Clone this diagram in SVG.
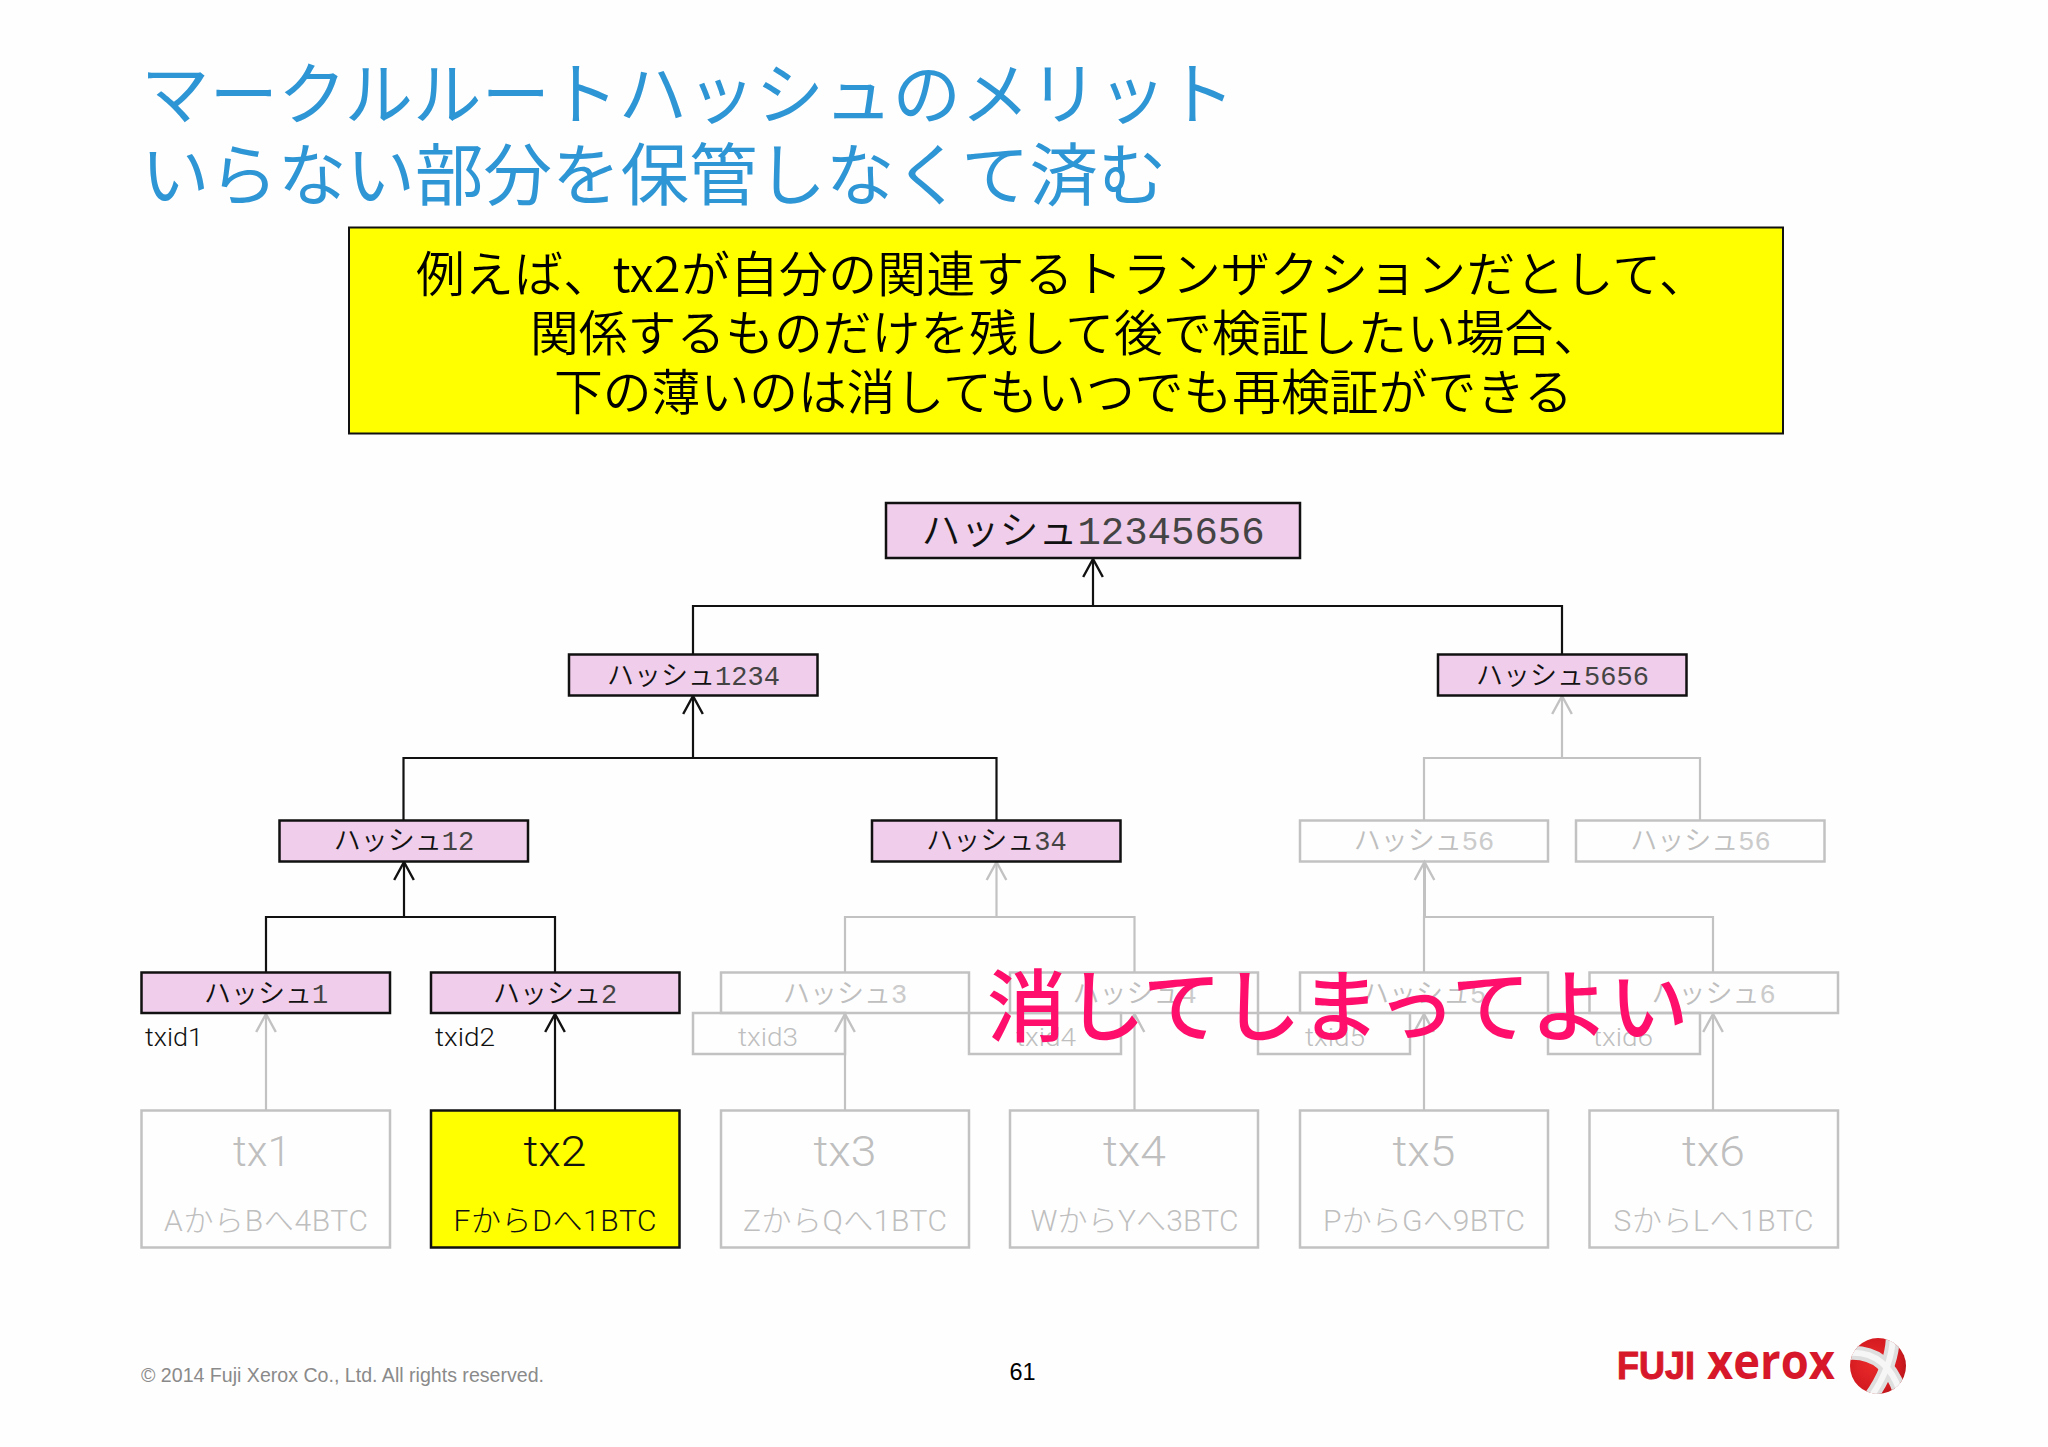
<svg xmlns="http://www.w3.org/2000/svg" width="2048" height="1447" viewBox="0 0 2048 1447">
<style>
.jp{font-family:"Noto Sans CJK JP","Liberation Sans",sans-serif}
.title{font-size:68.500px;font-weight:400;fill:#2e96d5}
.note{font-size:48.800px;font-weight:350;fill:#000}
.box{stroke-width:2.5px}
.on{fill:#f0cdea;stroke:#111}
.off{fill:none;stroke:#c2c2c2}
.h{text-anchor:middle;font-weight:350;font-size:27px}
.h tspan{font-family:"Liberation Mono",monospace}
.k tspan{fill:#444}
.g tspan{fill:#cbcbcb}
.root{font-size:39px}
.k{fill:#111}
.g{fill:#bfbfbf}
.lat{font-family:Roboto,"Liberation Sans","Noto Sans CJK JP",sans-serif;font-weight:300}
.tx{font-size:42px;text-anchor:middle}
.sub{font-size:30px;text-anchor:middle}
.txid{font-size:26.500px;font-family:Roboto,"Liberation Sans",sans-serif;font-weight:300}
.c{fill:none;stroke-width:2.2px}
.cb{stroke:#111}
.cg{stroke:#c2c2c2}
</style>
<defs>
<marker id="ab" markerUnits="userSpaceOnUse" markerWidth="24" markerHeight="24" refX="18" refY="11" orient="auto" viewBox="0 0 22 22"><path d="M1.500 2L18 11L1.500 20" fill="none" stroke="#111" stroke-width="2.2"/></marker>
<marker id="ag" markerUnits="userSpaceOnUse" markerWidth="24" markerHeight="24" refX="18" refY="11" orient="auto" viewBox="0 0 22 22"><path d="M1.500 2L18 11L1.500 20" fill="none" stroke="#c2c2c2" stroke-width="2.2"/></marker>
<radialGradient id="red" cx="40%" cy="45%" r="70%"><stop offset="0" stop-color="#ea2a2a"/><stop offset="0.7" stop-color="#d31a20"/><stop offset="1" stop-color="#a81418"/></radialGradient>
<clipPath id="ball"><circle cx="1878" cy="1366" r="28"/></clipPath>
</defs>
<rect width="2048" height="1447" fill="#fefefe"/>

<g id="title" class="jp title">
<text x="141" y="119">マークルルートハッシュのメリット</text>
<text x="141" y="200">いらない部分を保管しなくて済む</text>
</g>

<g id="note">
<rect x="349" y="227.500" width="1434" height="206" fill="#ffff00" stroke="#111" stroke-width="2"/>
<g class="jp note">
<text x="416" y="292" letter-spacing="0.300">例えば、tx2が自分の関連するトランザクションだとして、</text>
<text x="530" y="351">関係するものだけを残して後で検証したい場合、</text>
<text x="554" y="410">下の薄いのは消してもいつでも再検証ができる</text>
</g>
</g>

<g id="connectors" class="c">
<path class="cb" d="M693 654V606H1562V654"/>
<path class="cb" d="M1093 606V559" marker-end="url(#ab)"/>
<path class="cb" d="M403.500 820V758H996.500V820"/>
<path class="cb" d="M693 758V696" marker-end="url(#ab)"/>
<path class="cg" d="M1424 820V758H1700V820"/>
<path class="cg" d="M1562 758V696" marker-end="url(#ag)"/>
<path class="cb" d="M266 972V917H555V972"/>
<path class="cb" d="M404 917V862" marker-end="url(#ab)"/>
<path class="cg" d="M845 972V917H1134.500V972"/>
<path class="cg" d="M996.500 917V862" marker-end="url(#ag)"/>
<path class="cg" d="M1424 972V917H1713V972"/>
<path class="cg" d="M1424.500 917V862" style="stroke-width:3" marker-end="url(#ag)"/>
<path class="cg" d="M266 1110V1014" marker-end="url(#ag)"/>
<path class="cb" d="M555 1110V1014" marker-end="url(#ab)"/>
<path class="cg" d="M845 1110V1014" marker-end="url(#ag)"/>
<path class="cg" d="M1134.500 1110V1014" marker-end="url(#ag)"/>
<path class="cg" d="M1424 1110V1014" marker-end="url(#ag)"/>
<path class="cg" d="M1713 1110V1014" marker-end="url(#ag)"/>
</g>

<g id="hash12345656"><rect class="box on" x="886" y="503" width="414" height="55"/><text class="jp h root k" x="1093" y="544">ハッシュ<tspan>12345656</tspan></text></g>
<g id="hash1234"><rect class="box on" x="569" y="654.500" width="248.500" height="41"/><text class="jp h k" x="693.500" y="685">ハッシュ<tspan>1234</tspan></text></g>
<g id="hash5656"><rect class="box on" x="1438" y="654.500" width="248.500" height="41"/><text class="jp h k" x="1562.500" y="685">ハッシュ<tspan>5656</tspan></text></g>
<g id="hash12"><rect class="box on" x="279.500" y="820.500" width="248.500" height="41"/><text class="jp h k" x="404" y="850">ハッシュ<tspan>12</tspan></text></g>
<g id="hash34"><rect class="box on" x="872" y="820.500" width="248.500" height="41"/><text class="jp h k" x="996.500" y="850">ハッシュ<tspan>34</tspan></text></g>
<g id="hash56a"><rect class="box off" x="1300" y="820.500" width="248" height="41"/><text class="jp h g" x="1424" y="850">ハッシュ<tspan>56</tspan></text></g>
<g id="hash56b"><rect class="box off" x="1576" y="820.500" width="248.500" height="41"/><text class="jp h g" x="1700.500" y="850">ハッシュ<tspan>56</tspan></text></g>

<g id="hash1"><rect class="box on" x="141.500" y="972.500" width="248.500" height="40.500"/><text class="jp h k" x="266" y="1003">ハッシュ<tspan>1</tspan></text></g>
<g id="hash2"><rect class="box on" x="431" y="972.500" width="248.500" height="40.500"/><text class="jp h k" x="555" y="1003">ハッシュ<tspan>2</tspan></text></g>
<g id="hash3"><rect class="box off" x="721" y="972.500" width="248" height="40.500"/><text class="jp h g" x="845" y="1003">ハッシュ<tspan>3</tspan></text></g>
<g id="hash4"><rect class="box off" x="1010" y="972.500" width="248" height="40.500"/><text class="jp h g" x="1134.500" y="1003">ハッシュ<tspan>4</tspan></text></g>
<g id="hash5"><rect class="box off" x="1300" y="972.500" width="248" height="40.500"/><text class="jp h g" x="1424" y="1003">ハッシュ<tspan>5</tspan></text></g>
<g id="hash6"><rect class="box off" x="1589.500" y="972.500" width="248.500" height="40.500"/><text class="jp h g" x="1713.500" y="1003">ハッシュ<tspan>6</tspan></text></g>

<g id="txid1"><text class="txid k" x="145" y="1046" textLength="58" lengthAdjust="spacingAndGlyphs">txid1</text></g>
<g id="txid2"><text class="txid k" x="435" y="1046" textLength="60" lengthAdjust="spacingAndGlyphs">txid2</text></g>
<g id="txid3"><rect class="box off" x="693" y="1013" width="152" height="41"/><text class="txid g" x="738" y="1046" textLength="60" lengthAdjust="spacingAndGlyphs">txid3</text></g>
<g id="txid4"><rect class="box off" x="969" y="1013" width="152" height="41"/><text class="txid g" x="1016" y="1046" textLength="60" lengthAdjust="spacingAndGlyphs">txid4</text></g>
<g id="txid5"><rect class="box off" x="1258" y="1013" width="152" height="41"/><text class="txid g" x="1305" y="1046" textLength="60" lengthAdjust="spacingAndGlyphs">txid5</text></g>
<g id="txid6"><rect class="box off" x="1548" y="1013" width="152" height="41"/><text class="txid g" x="1593" y="1046" textLength="60" lengthAdjust="spacingAndGlyphs">txid6</text></g>

<g id="tx1"><rect class="box off" x="141.500" y="1110.500" width="248.500" height="137"/><text class="lat tx g" x="262" y="1166" textLength="58" lengthAdjust="spacingAndGlyphs">tx1</text><text class="lat sub g" x="266" y="1231" textLength="204">AからBへ4BTC</text></g>
<g id="tx2"><rect x="431" y="1110.500" width="248.500" height="137" fill="#ffff00" stroke="#111" stroke-width="2.500"/><text class="lat tx k" x="555" y="1166" textLength="63" lengthAdjust="spacingAndGlyphs">tx2</text><text class="lat sub k" x="555" y="1231" textLength="203">FからDへ1BTC</text></g>
<g id="tx3"><rect class="box off" x="721" y="1110.500" width="248" height="137"/><text class="lat tx g" x="845" y="1166" textLength="63" lengthAdjust="spacingAndGlyphs">tx3</text><text class="lat sub g" x="845" y="1231" textLength="204">ZからQへ1BTC</text></g>
<g id="tx4"><rect class="box off" x="1010" y="1110.500" width="248" height="137"/><text class="lat tx g" x="1134.500" y="1166" textLength="63" lengthAdjust="spacingAndGlyphs">tx4</text><text class="lat sub g" x="1134.500" y="1231" textLength="208">WからYへ3BTC</text></g>
<g id="tx5"><rect class="box off" x="1300" y="1110.500" width="248" height="137"/><text class="lat tx g" x="1424" y="1166" textLength="63" lengthAdjust="spacingAndGlyphs">tx5</text><text class="lat sub g" x="1424" y="1231" textLength="202">PからGへ9BTC</text></g>
<g id="tx6"><rect class="box off" x="1589.500" y="1110.500" width="248.500" height="137"/><text class="lat tx g" x="1713.500" y="1166" textLength="63" lengthAdjust="spacingAndGlyphs">tx6</text><text class="lat sub g" x="1713.500" y="1231" textLength="200">SからLへ1BTC</text></g>

<g id="overlay"><text class="jp" x="987" y="1036" font-size="79" font-weight="500" fill="#ff0f6b">消してしまってよい</text></g>

<g id="footer">
<text x="141" y="1382" font-family="Liberation Sans,sans-serif" font-size="20.500" fill="#8a8a8a" textLength="403" lengthAdjust="spacingAndGlyphs">© 2014 Fuji Xerox Co., Ltd. All rights reserved.</text>
<text x="1022.500" y="1380" text-anchor="middle" font-family="Liberation Sans,sans-serif" font-size="23.500" fill="#000">61</text>
</g>

<g id="logo">
<text x="1617" y="1379" font-family="Liberation Sans,sans-serif" font-weight="700" font-size="38" fill="#d7182a" stroke="#d7182a" stroke-width="1" textLength="78" lengthAdjust="spacingAndGlyphs">FUJI</text>
<text x="1707" y="1379" font-family="Open Sans,Liberation Sans,sans-serif" font-weight="700" font-size="50" fill="#d7182a" textLength="128" lengthAdjust="spacingAndGlyphs">xerox</text>
<circle cx="1878" cy="1366" r="28" fill="url(#red)"/>
<g clip-path="url(#ball)" fill="none">
<g stroke="#dedede" stroke-width="14">
<path d="M1848 1353Q1886 1350 1900 1392"/>
<path d="M1893 1336Q1892 1368 1870 1398"/>
</g>
<g stroke="#f6f6f6" stroke-width="6">
<path d="M1848 1353Q1886 1350 1900 1392"/>
<path d="M1893 1336Q1892 1368 1870 1398"/>
</g>
</g>
</g>
</svg>
